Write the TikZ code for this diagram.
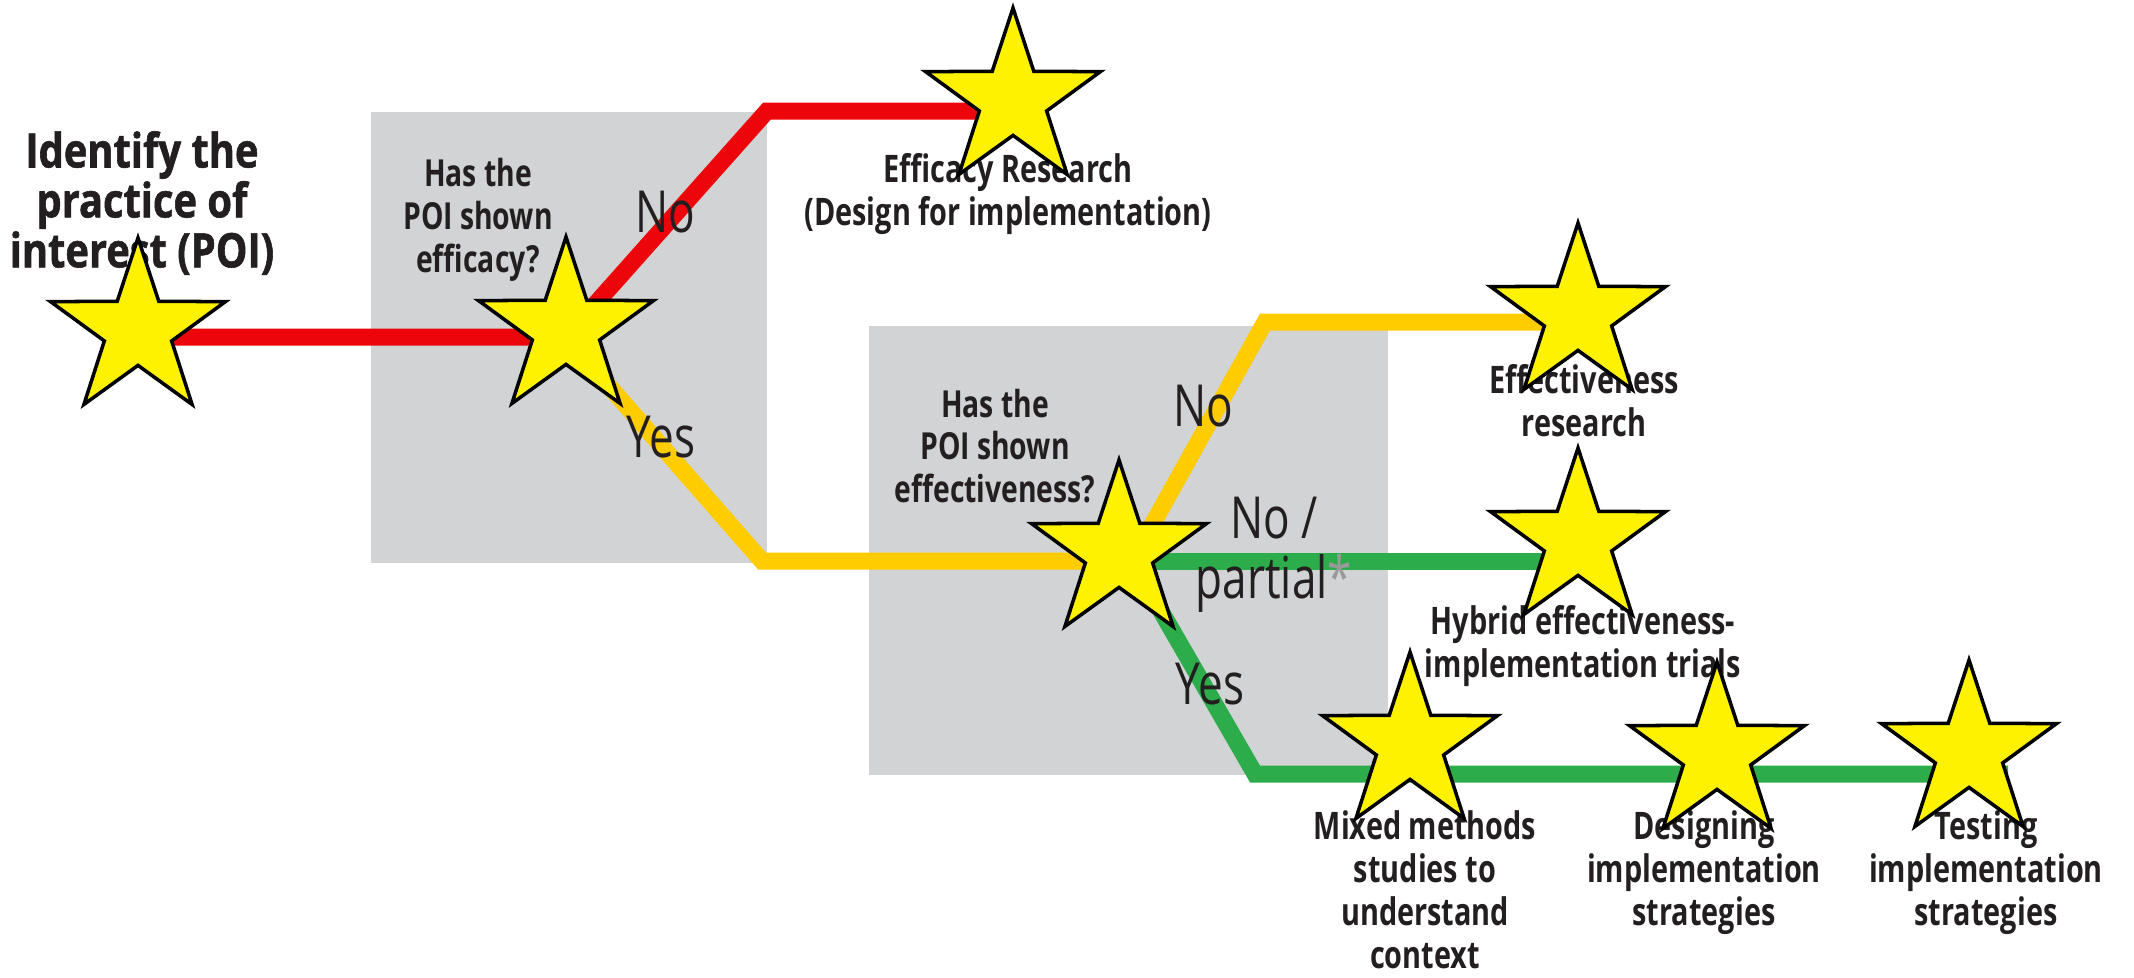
\documentclass[tikz,border=0pt]{standalone}
\usepackage{fontspec}
\setmainfont{Open Sans}[FakeStretch=0.76]
\newfontfamily\headfont{Open Sans}[FakeStretch=0.84, FakeBold=1.2]
\usepackage{tikz}
\usetikzlibrary{positioning,shapes.geometric}
\definecolor{poired}{RGB}{236,6,12}
\definecolor{poiyellow}{RGB}{255,204,0}
\definecolor{poigreen}{RGB}{44,172,74}
\definecolor{poigray}{RGB}{209,211,212}
\definecolor{poitext}{RGB}{35,31,32}
\tikzset{
  track/.style={line width=1.7mm, line join=miter},
  zone/.style={rectangle, fill=poigray, draw=none, inner sep=0pt, anchor=north west},
}

\begin{document}
\begin{tikzpicture}[
    x=0.1mm, y=-0.1mm,
    headname/.style={font=\headfont\bfseries\fontsize{13.5}{14.2}\selectfont, text=poitext, align=center, inner sep=0pt},
    question/.style={font=\bfseries\fontsize{10.6}{12.2}\selectfont, text=poitext, align=center, inner sep=0pt},
    outcome/.style={font=\bfseries\fontsize{10.8}{12.2}\selectfont, text=poitext, align=center, inner sep=0pt, anchor=north},
    answer/.style={font=\fontsize{16.5}{17}\selectfont, text=poitext, align=center, inner sep=0pt},
    hidestar/.style={star, star points=5, star point ratio=2.6, fill=yellow, draw=black, line width=1pt, minimum size=18.4mm, inner sep=0pt}
  ]
    \useasboundingbox (0,0) rectangle (2134,977);

    % grey decision zones
    \node (effbox) [zone, minimum width=39.6mm, minimum height=45.1mm] at (370,111) {};
    \node (effvbox) [zone, minimum width=51.9mm, minimum height=44.9mm] at (868,325) {};

    % corners of the tracks
    \coordinate (start) at (138,337);
    \coordinate (split1) at (566,337);
    \coordinate (redup) at (767,111);
    \coordinate (redend) at (1013,111);
    \coordinate (yeldown) at (762,561);
    \coordinate (split2) at (1132,561);
    \coordinate (yelup) at (1265,322);
    \coordinate (yelend) at (1578,322);
    \coordinate (grnend) at (1578,561);
    \coordinate (grndown) at (1255,774);
    \coordinate (grnend2) at (2008,774);

    \draw[track, poired] (start) -- (split1) -- (redup) -- (redend);
    \draw[track, poiyellow] (split1) -- (yeldown) -- (split2) -- (yelup) -- (yelend);
    \draw[track, poigreen] (split2) -- (grnend);
    \draw[track, poigreen] (split2) -- (grndown) -- (grnend2);

    \node (poi) [headname] at (142,203) {Identify the\\practice of\\interest (POI)};
    \node (q1) [question] at (478,220) {Has the\\POI shown\\efficacy?};
    \node (q2) [question] at (995,446) {Has the\\POI shown\\effectiveness?};

    \node (no1) [answer] at (665,212) {No};
    \node (yes1) [answer] at (661,437) {Yes};
    \node (no2) [answer] at (1203,406) {No};
    \node (nopart) [answer] at (1274,555) {No /\\partial\textcolor{black!40}{*}};
    \node (yes2) [answer] at (1210,684) {Yes};

    \node (efficacy) [outcome, below=4.2mm of redend, xshift=-0.5mm] {Efficacy Research\\(Design for implementation)};
    \node (effres) [outcome, below=4.2mm of yelend, xshift=0.6mm] {Effectiveness\\research};
    \node (hybrid) [outcome, below=4.4mm of grnend, xshift=0.5mm] {Hybrid effectiveness-\\implementation trials};

    \coordinate (mixat) at (1425,774);
    \coordinate (desat) at (1704,774);
    \coordinate (tesat) at (1986,774);
    \node (mixed) [outcome, below=3.6mm of mixat] {Mixed methods\\studies to\\understand\\context};
    \node (design) [outcome, below=3.6mm of desat] {Designing\\implementation\\strategies};
    \node (testing) [outcome, below=3.6mm of tesat] {Testing\\implementation\\strategies};

    % stars on top
    \node (s1) [hidestar] at (138,330) {};
    \node (s2) [hidestar] at (566,329) {};
    \node (s3) [hidestar] at (1013,100) {};
    \node (s4) [hidestar] at (1578,315) {};
    \node (s5) [hidestar] at (1578,540) {};
    \node (s6) [hidestar] at (1119,552) {};
    \node (s7) [hidestar] at (1410,744) {};
    \node (s8) [hidestar] at (1717,754) {};
    \node (s9) [hidestar] at (1969,752) {};
  \end{tikzpicture}
\end{document}
